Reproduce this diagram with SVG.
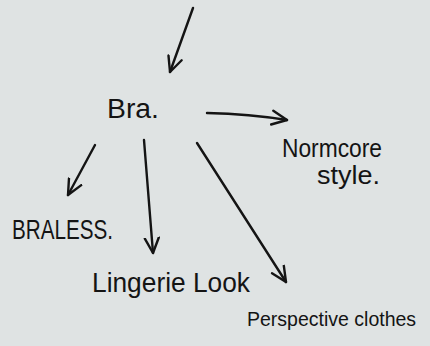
<svg xmlns="http://www.w3.org/2000/svg" width="430" height="346" viewBox="0 0 430 346">
<defs>
<style>
.lbl{font-family:"Liberation Sans","DejaVu Sans",sans-serif;fill:#141414;}
.edge{fill:none;stroke:#141414;stroke-width:2.4;stroke-linecap:round;stroke-linejoin:round;}
</style>
<marker id="ah" viewBox="0 0 18 18" refX="16" refY="9" markerWidth="18" markerHeight="18" markerUnits="userSpaceOnUse" orient="auto">
<path d="M1,2 L16,9 L1,16" fill="none" stroke="#141414" stroke-width="2.4" stroke-linecap="round" stroke-linejoin="round"/>
</marker>
</defs>
<rect width="430" height="346" fill="#dfe3e3"/>
<g id="connectors">
<path class="edge" d="M193,8 L170,72" marker-end="url(#ah)"/>
<path class="edge" d="M207,113 Q250,114 287,120" marker-end="url(#ah)"/>
<path class="edge" d="M95,145 L68,195" marker-end="url(#ah)"/>
<path class="edge" d="M144,140 L153,253" marker-end="url(#ah)"/>
<path class="edge" d="M197,143 L286,282" marker-end="url(#ah)"/>
</g>
<g id="bra"><text class="lbl" x="107" y="118" font-size="27" textLength="52" lengthAdjust="spacingAndGlyphs">Bra.</text></g>
<g id="normcore">
<text class="lbl" x="282" y="157" font-size="25" textLength="100" lengthAdjust="spacingAndGlyphs">Normcore</text>
<text class="lbl" x="317" y="184" font-size="25" textLength="63" lengthAdjust="spacingAndGlyphs">style.</text>
</g>
<g id="braless"><text class="lbl" x="12" y="239" font-size="28" textLength="101" lengthAdjust="spacingAndGlyphs">BRALESS.</text></g>
<g id="lingerie"><text class="lbl" x="92" y="292" font-size="27" textLength="158" lengthAdjust="spacingAndGlyphs">Lingerie Look</text></g>
<g id="perspective"><text class="lbl" x="247" y="326" font-size="19.5">Perspective clothes</text></g>
</svg>
